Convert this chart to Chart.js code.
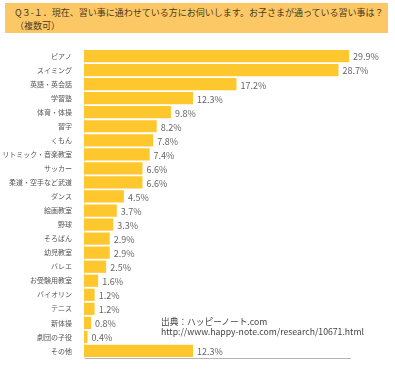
<!DOCTYPE html>
<html>
<head>
<meta charset="utf-8">
<script src="https://cdn.jsdelivr.net/npm/chart.js@4/dist/chart.umd.min.js"></script>
<style>
  body { margin: 0; background: #fff; font-family: "Noto Sans CJK JP", sans-serif; }
  #wrap { position: relative; width: 395px; height: 372px; }
  #title {
    position: absolute; left: 5px; top: 3px; width: 383px; height: 30px;
    background: #fcc865; color: #4a3a22; font-size: 9px; line-height: 13px;
    box-sizing: border-box; padding: 3px 0 0 10px; white-space: nowrap;
  }
  #source {
    position: absolute; left: 161px; top: 317px; font-size: 8.7px; line-height: 10px;
    color: #444;
  }
  canvas { position: absolute; left: 0; top: 0; }
</style>
</head>
<body>
<div id="wrap">
  <canvas id="barChart" width="395" height="372"></canvas>
  <div id="title">Q３-１．現在、習い事に通わせている方にお伺いします。お子さまが通っている習い事は？<br>（複数可）</div>
  <div id="source">出典：ハッピーノート.com<br>http://www.happy-note.com/research/10671.html</div>
</div>
<script>
const LABELS = ["ピアノ", "スイミング", "英語・英会話", "学習塾", "体育・体操", "習字", "くもん",
  "リトミック・音楽教室", "サッカー", "柔道・空手など武道", "ダンス", "絵画教室", "野球", "そろばん",
  "幼児教室", "バレエ", "お受験用教室", "バイオリン", "テニス", "新体操", "劇団の子役", "その他"]
const DATA = [29.9, 28.7, 17.2, 12.3, 9.8, 8.2, 7.8, 7.4, 6.6, 6.6, 4.5, 3.7, 3.3, 2.9, 2.9, 2.5, 1.6, 1.2, 1.2, 0.8, 0.4, 12.3]

// value labels at the end of each bar
const valueLabels = {
  id: "valueLabels",
  afterDatasetsDraw(chart) {
    const ctx = chart.ctx
    const meta = chart.getDatasetMeta(0)
    ctx.save()
    ctx.font = '9px "Noto Sans CJK JP", sans-serif'
    ctx.fillStyle = "#666"
    ctx.textBaseline = "middle"
    meta.data.forEach((bar, i) => {
      ctx.fillText(DATA[i].toFixed(1) + "%", bar.x + 4, bar.y + 1)
    })
    ctx.restore()
  }
}

const myBar = new Chart(document.getElementById("barChart").getContext("2d"), {
  type: "bar",
  data: {
    labels: LABELS,
    datasets: [{
      data: DATA,
      backgroundColor: "#ffc72e",
      borderWidth: 0,
      barPercentage: 0.87,
      categoryPercentage: 1
    }]
  },
  options: {
    indexAxis: "y",
    responsive: false,
    animation: false,
    layout: { padding: { top: 49, bottom: 6, left: 0, right: 45 } },
    plugins: { legend: { display: false }, tooltip: { enabled: false } },
    scales: {
      x: {
        min: 0, max: 30,
        grid: { display: false },
        ticks: { display: false },
        border: { color: "#b5b5b5", width: 1 }
      },
      y: {
        grid: { display: false },
        border: { color: "#e6e6e6", width: 1 },
        ticks: { color: "#555", padding: 4, font: { size: 7, family: '"Noto Sans CJK JP", sans-serif' } },
        afterFit: (scale) => { scale.width = 84 }
      }
    }
  },
  plugins: [valueLabels]
})
</script>
</body>
</html>
